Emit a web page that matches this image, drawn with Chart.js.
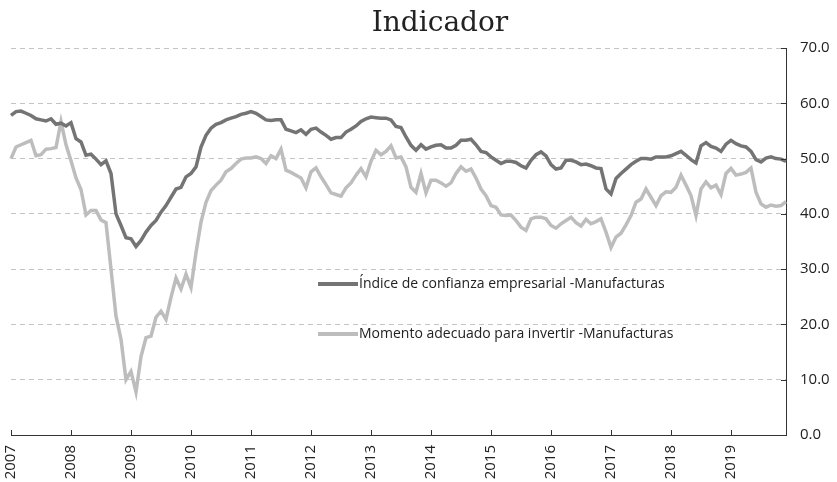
<!DOCTYPE html>
<html>
<head>
<meta charset="utf-8">
<script src="https://cdn.jsdelivr.net/npm/chart.js@4.4.1/dist/chart.umd.min.js"></script>
<style>
  html, body { margin: 0; padding: 0; background: #fff; }
  #wrap { width: 837px; height: 482px; position: relative; }
</style>
</head>
<body>
<div id="wrap"><canvas id="myChart"></canvas></div>
<script>
// Datos mensuales 2007-2019
const years = [2007, 2008, 2009, 2010, 2011, 2012, 2013, 2014, 2015, 2016, 2017, 2018, 2019];
const yTicks = [0, 10, 20, 30, 40, 50, 60, 70];
const chartTitle = 'Indicador';

const seriesNames = [
  'Índice de confianza empresarial -Manufacturas',
  'Momento adecuado para invertir -Manufacturas'
];

const indiceConfianza = [
  57.8, 58.5, 58.6, 58.2, 57.8, 57.2, 57.0, 56.8, 57.2, 56.2, 56.4, 55.9,
  56.5, 53.6, 53.0, 50.6, 50.8, 49.9, 48.9, 49.6, 47.3, 40.0, 37.9, 35.7,
  35.5, 34.1, 35.2, 36.7, 37.9, 38.8, 40.3, 41.5, 43.0, 44.5, 44.8, 46.7,
  47.3, 48.5, 52.1, 54.2, 55.5, 56.2, 56.5, 57.0, 57.3, 57.6, 58.0, 58.2,
  58.5, 58.2, 57.6, 57.0, 56.9, 57.0, 57.0, 55.3, 55.0, 54.7, 55.2, 54.4,
  55.3, 55.5, 54.8, 54.2, 53.5, 53.8, 53.8, 54.8, 55.3, 55.9, 56.7, 57.2,
  57.5, 57.4, 57.3, 57.3, 57.0, 55.8, 55.6, 53.9, 52.4, 51.5, 52.5, 51.7,
  52.1, 52.4, 52.5, 51.9, 51.9, 52.4, 53.3, 53.3, 53.5, 52.5, 51.3, 51.1,
  50.3, 49.7, 49.1, 49.5, 49.5, 49.3, 48.7, 48.3, 49.7, 50.7, 51.2, 50.5,
  48.9, 48.1, 48.3, 49.7, 49.7, 49.4, 48.9, 49.0, 48.7, 48.3, 48.2, 44.5,
  43.6, 46.4, 47.3, 48.1, 48.9, 49.5, 50.0, 50.0, 49.9, 50.3, 50.3, 50.3,
  50.5, 50.9, 51.3, 50.6, 49.8, 49.2, 52.3, 52.9, 52.2, 51.9, 51.3, 52.6,
  53.3, 52.7, 52.3, 52.1, 51.3, 49.8, 49.4, 50.1, 50.3, 50.0, 49.9, 49.5
];

const momentoInvertir = [
  50.0, 52.1, 52.5, 52.9, 53.3, 50.5, 50.7, 51.7, 51.8, 52.0, 56.7, 52.5,
  49.6, 46.5, 44.4, 39.8, 40.6, 40.6, 38.9, 38.4, 30.0, 21.5, 17.3, 10.0,
  11.5, 7.8, 14.2, 17.6, 17.9, 21.3, 22.4, 20.9, 24.9, 28.4, 26.4, 29.1,
  26.7, 33.0, 38.5, 42.1, 44.2, 45.2, 46.1, 47.6, 48.2, 49.1, 49.9, 50.1,
  50.1, 50.3, 50.0, 49.1, 50.5, 50.0, 51.7, 47.9, 47.5, 47.0, 46.5, 44.7,
  47.6, 48.3, 46.7, 45.3, 43.8, 43.5, 43.2, 44.7, 45.6, 47.0, 48.2, 46.7,
  49.5, 51.5, 50.7, 51.3, 52.3, 50.1, 50.3, 48.5, 44.8, 43.9, 47.3, 43.8,
  46.1, 46.1, 45.6, 45.0, 45.6, 47.3, 48.5, 47.7, 48.1, 46.5, 44.5, 43.3,
  41.5, 41.2, 39.8, 39.7, 39.8, 38.8, 37.6, 37.0, 39.1, 39.4, 39.4, 39.1,
  37.9, 37.4, 38.2, 38.8, 39.4, 38.4, 37.8, 39.0, 38.2, 38.6, 39.1, 36.7,
  33.9, 35.8, 36.5, 38.0, 39.7, 42.1, 42.7, 44.5, 43.0, 41.5, 43.3, 44.0,
  43.9, 44.8, 47.0, 45.2, 43.3, 39.7, 44.5, 45.8, 44.7, 45.2, 43.5, 47.3,
  48.2, 47.0, 47.2, 47.5, 48.3, 43.9, 41.8, 41.2, 41.6, 41.4, 41.5, 42.2
];

// etiquetas de mes: "2007-01" ... "2019-12"
const labels = [];
years.forEach(y => {
  for (let m = 1; m <= 12; m++) labels.push(y + '-' + String(m).padStart(2, '0'));
});

/*Titulo, ticks hacia adentro y leyenda dentro del area*/
const extras = {
  id: 'extras',
  afterDraw(chart) {
    const c = chart.ctx;
    const area = chart.chartArea;
    const xs = chart.scales.x;
    const ys = chart.scales.y;
    c.save();
    c.strokeStyle = '#333';
    c.lineWidth = 1;
    c.beginPath();
    labels.forEach((l, i) => {
      if (l.endsWith('-01')) {
        const px = Math.round(xs.getPixelForValue(i)) + 0.5;
        c.moveTo(px, area.bottom);
        c.lineTo(px, area.bottom - 5);
      }
    });
    yTicks.forEach(v => {
      const py = Math.round(ys.getPixelForValue(v)) + 0.5;
      c.moveTo(area.right, py);
      c.lineTo(area.right - 5, py);
    });
    c.stroke();

    // titulo
    c.fillStyle = '#222';
    c.font = '28px "DejaVu Serif"';
    c.textAlign = 'center';
    c.textBaseline = 'alphabetic';
    c.fillText(chartTitle, 440, 31);

    // leyenda
    c.font = '14px "Open Sans"';
    c.textAlign = 'left';
    c.textBaseline = 'middle';
    chart.data.datasets.forEach((ds, i) => {
      const ly = 284 + i * 50;
      c.strokeStyle = ds.borderColor;
      c.lineWidth = 4;
      c.beginPath();
      c.moveTo(318, ly);
      c.lineTo(358, ly);
      c.stroke();
      c.fillText(ds.label, 359, ly);
    });
    c.restore();
  }
};

const ctx = document.getElementById('myChart');

new Chart(ctx, {
  type: 'line',
  data: {
    labels: labels,
    datasets: [{
      label: seriesNames[0],
      data: indiceConfianza,
      borderColor: '#747474',
      borderWidth: 3.5,
      pointRadius: 0,
      tension: 0
    }, {
      label: seriesNames[1],
      data: momentoInvertir,
      borderColor: '#bdbdbd',
      borderWidth: 3.5,
      pointRadius: 0,
      tension: 0
    }]
  },
  options: {
    responsive: true,
    maintainAspectRatio: false,
    animation: false,
    layout: { padding: { left: 11, right: 0, top: 48, bottom: 0 } },
    plugins: {
      legend: { display: false },
      tooltip: { enabled: false },
      title: { display: false }
    },
    scales: {
      x: {
        offset: false,
        grid: { display: false },
        border: { display: true, color: '#333', width: 1 },
        afterFit: s => { s.height = 47; },
        ticks: {
          autoSkip: false,
          minRotation: 90,
          maxRotation: 90,
          padding: 2,
          color: '#222',
          font: { family: 'Open Sans', size: 15 },
          callback: function (val, i) {
            const l = labels[i];
            return l.endsWith('-01') ? l.slice(0, 4) : null;
          }
        }
      },
      y: {
        position: 'right',
        min: 0,
        max: 70,
        afterFit: s => { s.width = 51; },
        grid: { color: '#c4c4c4', lineWidth: 1, drawTicks: false },
        border: { display: true, color: '#333', width: 1, dash: [5, 4] },
        ticks: {
          stepSize: 10,
          padding: 14,
          color: '#222',
          font: { family: 'Open Sans', size: 15 },
          callback: v => v.toFixed(1)
        }
      }
    }
  },
  plugins: [extras]
});
</script>
</body>
</html>
